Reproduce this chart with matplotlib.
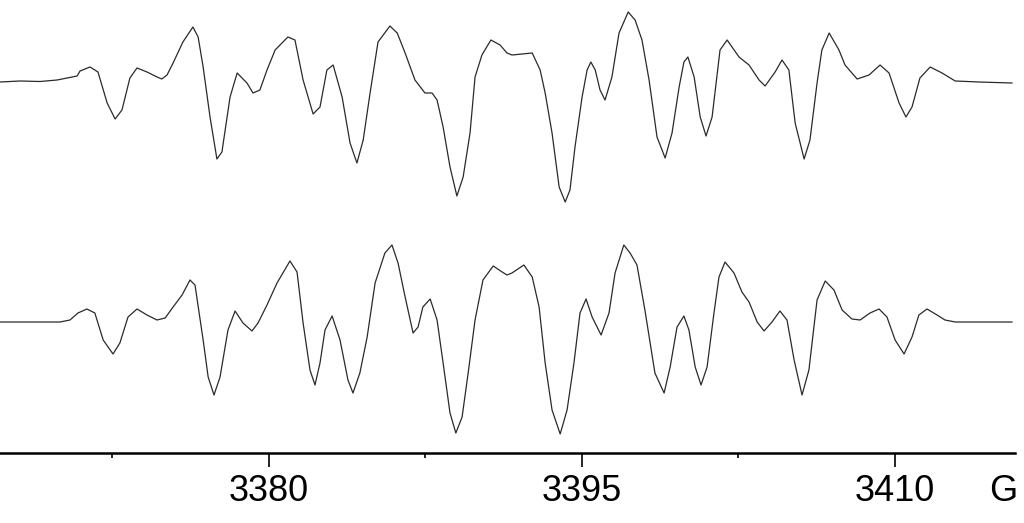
"""
EPR 스펙트럼: 실험(위) vs 시뮬레이션(아래), 자기장 축 단위 G
"""
import numpy as np
import matplotlib.pyplot as plt

# ── 데이터 ─────────────────────────────────────────
# 위 스펙트럼(실험): 자기장 [G], 신호 [임의 단위]
field_exp = [3367.13, 3368.08, 3369.05, 3369.86, 3370.82, 3370.96, 3371.44, 3371.82,
             3372.26, 3372.64, 3372.97, 3373.35, 3373.69, 3374.17, 3374.65, 3374.88,
             3375.13, 3375.42, 3375.89, 3376.37, 3376.62, 3376.86, 3377.19, 3377.52,
             3377.76, 3378.15, 3378.49, 3378.96, 3379.25, 3379.58, 3379.92, 3380.31,
             3380.92, 3381.26, 3381.65, 3382.13, 3382.46, 3382.79, 3383.09, 3383.52,
             3383.90, 3384.23, 3384.53, 3384.86, 3385.24, 3385.81, 3386.16, 3386.54,
             3387.01, 3387.49, 3387.83, 3388.07, 3388.36, 3388.69, 3389.02, 3389.32,
             3389.65, 3389.89, 3390.22, 3390.65, 3391.09, 3391.42, 3391.66, 3392.63,
             3393.01, 3393.25, 3393.58, 3393.92, 3394.21, 3394.44, 3394.68, 3395.02,
             3395.26, 3395.44, 3395.65, 3395.88, 3396.12, 3396.45, 3396.79, 3397.23,
             3397.56, 3397.89, 3398.23, 3398.61, 3399.00, 3399.33, 3399.67, 3399.90,
             3400.09, 3400.39, 3400.68, 3400.96, 3401.25, 3401.63, 3401.97, 3402.54,
             3403.02, 3403.50, 3403.79, 3404.27, 3404.60, 3404.93, 3405.23, 3405.66,
             3405.94, 3406.28, 3406.51, 3406.86, 3407.33, 3407.62, 3408.20, 3408.77,
             3409.30, 3409.73, 3410.21, 3410.54, 3410.83, 3411.21, 3411.70, 3412.27,
             3412.90, 3414.04, 3415.62]
signal_exp = [-1, 0, -0.5, 1, 5, 10, 14, 9,
              -22, -38, -29, 3, 13, 9, 4, 2,
              6, 18, 39, 54, 44, 14, -36, -78,
              -71, -16, 8, -2, -12, -9, 11, 31,
              44, 41, 1, -33, -26, 11, 16, -16,
              -62, -82, -59, -12, 39, 55, 48, 28,
              1, -12, -12, -19, -46, -86, -115, -96,
              -52, 4, 26, 41, 36, 28, 26, 28,
              11, -12, -52, -106, -121, -109, -66, -16,
              11, 19, 11, -9, -19, 4, 48, 69,
              61, 41, 1, -56, -77, -52, -6, 19,
              24, 4, -36, -55, -36, 31, 41, 24,
              16, 1, -5, 9, 21, 11, -42, -78,
              -59, -2, 31, 48, 31, 16, 2, 6,
              16, 8, -22, -36, -26, 3, 14, 8,
              0, -1, -2]

# 아래 스펙트럼(시뮬레이션)
field_sim = [3367.13, 3370.00, 3370.48, 3370.86, 3371.29, 3371.67, 3372.07, 3372.54,
             3372.87, 3373.26, 3373.69, 3374.17, 3374.65, 3375.04, 3375.42, 3375.85,
             3376.23, 3376.47, 3376.86, 3377.10, 3377.38, 3377.67, 3378.05, 3378.39,
             3378.77, 3379.20, 3379.49, 3379.92, 3380.40, 3381.02, 3381.36, 3381.65,
             3381.98, 3382.22, 3382.46, 3382.70, 3383.04, 3383.42, 3383.80, 3384.04,
             3384.37, 3384.72, 3385.10, 3385.57, 3385.91, 3386.20, 3386.54, 3386.92,
             3387.16, 3387.39, 3387.74, 3388.07, 3388.36, 3388.69, 3388.97, 3389.27,
             3389.56, 3389.89, 3390.27, 3390.76, 3391.19, 3391.42, 3391.66, 3392.23,
             3392.63, 3392.96, 3393.25, 3393.58, 3393.97, 3394.30, 3394.63, 3394.92,
             3395.21, 3395.50, 3395.93, 3396.31, 3396.60, 3397.02, 3397.32, 3397.65,
             3398.03, 3398.51, 3398.95, 3399.24, 3399.57, 3399.90, 3400.14, 3400.44,
             3400.72, 3401.01, 3401.34, 3401.58, 3401.87, 3402.30, 3402.68, 3403.02,
             3403.41, 3403.74, 3404.12, 3404.50, 3404.84, 3405.18, 3405.56, 3405.89,
             3406.28, 3406.67, 3407.09, 3407.48, 3407.95, 3408.34, 3408.82, 3409.25,
             3409.63, 3410.02, 3410.45, 3410.83, 3411.16, 3411.55, 3412.03, 3412.41,
             3412.90, 3415.62]
signal_sim = [0, 0, 2, 9, 13, 9, -18, -32,
              -21, 5, 13, 7, 2, 4, 15, 27,
              42, 37, -18, -55, -73, -55, -8, 11,
              -1, -9, -1, 17, 39, 61, 50, -1,
              -48, -63, -41, -8, 6, -18, -58, -71,
              -51, -15, 39, 69, 77, 59, 25, -11,
              -5, 15, 23, 2, -41, -91, -111, -95,
              -51, 2, 42, 56, 50, 47, 49, 57,
              45, 15, -41, -88, -112, -88, -41, 9,
              23, 5, -13, 9, 49, 77, 69, 57,
              12, -51, -71, -45, -5, 6, -8, -45,
              -63, -45, 9, 45, 60, 49, 30, 20,
              0, -9, 0, 11, 2, -38, -73, -48,
              22, 41, 32, 12, 3, 2, 9, 13,
              5, -18, -32, -15, 7, 13, 7, 2,
              0, 0]

major_ticks = [3380, 3395, 3410]
minor_ticks = [3372.5, 3387.5, 3402.5]
unit_label = "G"
unit_pos = 3415.21

# 세로 배치(임의 단위): 두 스펙트럼 기준선, 축 위치
offset_exp, offset_sim, axis_level = 442, 201, 70
FONT = ["Liberation Sans", "DejaVu Sans"]
TICK_LEN, TICK_PAD = 10, 5

fig = plt.figure(figsize=(10.24, 5.23), dpi=100)
ax = fig.add_axes([0, 0, 1, 1])
ax.plot(field_exp, np.array(signal_exp) + offset_exp, color="#2a2a2a", lw=0.9)
ax.plot(field_sim, np.array(signal_sim) + offset_sim, color="#2a2a2a", lw=0.9)

ax.set_xlim(3367.125, 3416.197)
ax.set_ylim(0, 523)
for s in ("left", "right", "top"):
    ax.spines[s].set_visible(False)
ax.spines["bottom"].set_position(("data", axis_level))
ax.spines["bottom"].set_linewidth(1.8)
ax.spines["bottom"].set_bounds(3367.125, 3415.77)
ax.set_yticks([])
ax.set_xticks(major_ticks)
ax.set_xticks(minor_ticks, minor=True)
ax.tick_params(axis="x", which="major", length=TICK_LEN, width=1.2,
               pad=TICK_PAD, labelsize=26)
ax.tick_params(axis="x", which="minor", length=3.6, width=1.2)
for lab in ax.get_xticklabels():
    lab.set_family(FONT)
# 단위 G: 눈금 라벨과 같은 높이에 맞춤
ax.annotate(unit_label, xy=(unit_pos, axis_level),
            xytext=(0, -(TICK_LEN + TICK_PAD)), textcoords="offset points",
            fontsize=26, ha="center", va="top", family=FONT)

fig.savefig("out.png", dpi=100)
